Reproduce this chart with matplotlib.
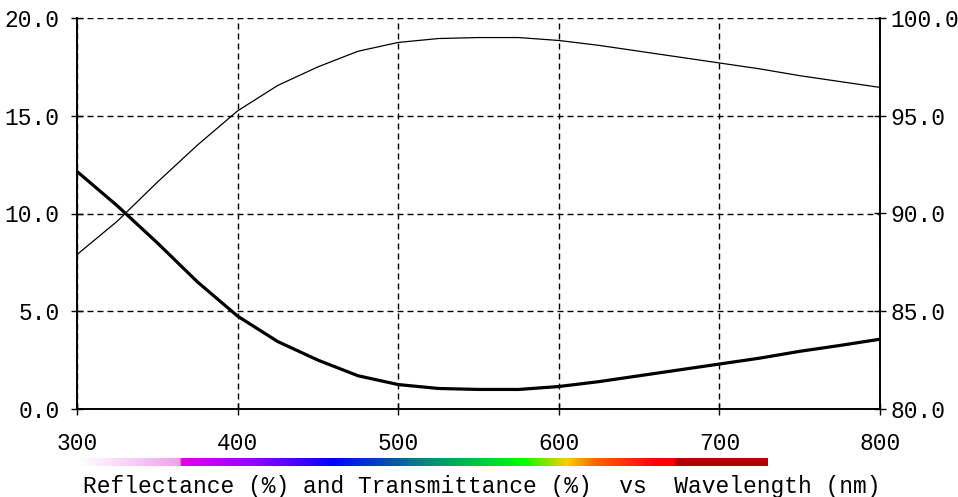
import numpy as np
import matplotlib
matplotlib.use("Agg")
import matplotlib.pyplot as plt
from matplotlib.colors import LinearSegmentedColormap

# valeurs
wavelength = [300, 325, 350, 375, 400, 425, 450, 475, 500, 525, 550,
              575, 600, 625, 650, 675, 700, 725, 750, 775, 800]
reflectance = [12.15, 10.4, 8.5, 6.5, 4.75, 3.45, 2.5, 1.7, 1.25, 1.05, 1.0,
               1.0, 1.15, 1.4, 1.7, 2.0, 2.3, 2.6, 2.95, 3.25, 3.57]
transmittance = [87.9, 89.6, 91.6, 93.5, 95.25, 96.55, 97.5, 98.3, 98.75, 98.95, 99.0,
                 99.0, 98.85, 98.6, 98.3, 98.0, 97.7, 97.4, 97.05, 96.75, 96.45]
x_ticks = [300, 400, 500, 600, 700, 800]
r_ticks = [0, 5, 10, 15, 20]
t_ticks = [80, 85, 90, 95, 100]
title = "Reflectance (%) and Transmittance (%)  vs  Wavelength (nm)"

font = "Liberation Mono"
fs = 16.5
plt.rcParams["font.family"] = [font, "DejaVu Sans Mono"]

fig = plt.figure(figsize=(9.58, 4.97), dpi=100)
ax = fig.add_axes([77 / 958, 1 - 409 / 497, 803 / 958, 391 / 497])
ax2 = ax.twinx()

ax.plot(wavelength, reflectance, color="black", lw=2.3, zorder=3)
ax2.plot(wavelength, transmittance, color="black", lw=0.9, zorder=3)

ax.set_xlim(300, 800)
ax.set_ylim(0, 20)
ax2.set_ylim(80, 100)

ax.set_xticks(x_ticks)
ax.set_xticklabels([str(v) for v in x_ticks], fontsize=fs)
ax.set_yticks(r_ticks)
ax.set_yticklabels([f"{v:.1f}" for v in r_ticks], fontsize=fs)
ax2.set_yticks(t_ticks)
ax2.set_yticklabels([f"{v:.1f}" for v in t_ticks], fontsize=fs)

ax.tick_params(axis="x", direction="inout", length=9, width=1, pad=12)
ax.tick_params(axis="y", direction="inout", length=9, width=1, pad=8)
ax2.tick_params(axis="y", direction="inout", length=9, width=1, pad=3)

ax.grid(True, color="black", lw=1.0, linestyle=(0, (4.3, 2.9)))
for a in (ax, ax2):
    a.spines["top"].set_visible(False)
    for s in ("left", "right", "bottom"):
        a.spines[s].set_linewidth(1.2)

# bande spectrale sous l'axe
stops = [(297, "#ffffff"), (360, "#f0a0ec"), (361, "#e000f0"), (406, "#9a00ff"),
         (456, "#0000ff"), (514, "#00887f"), (576, "#00ff00"), (603, "#ffcc00"),
         (621, "#ff6600"), (659, "#ff0000"), (670, "#ff0000"), (672, "#b20000"),
         (729, "#b00000")]
lo, hi = stops[0][0], stops[-1][0]
cmap = LinearSegmentedColormap.from_list(
    "spec", [((w - lo) / (hi - lo), c) for w, c in stops], N=512)
bar = fig.add_axes([77 / 958, 1 - 466 / 497, 803 / 958, 8 / 497])
bar.imshow(np.linspace(0, 1, 512)[None, :], cmap=cmap, aspect="auto",
           extent=(lo, hi, 0, 1))
bar.set_xlim(296, 800)
bar.axis("off")

fig.text(482 / 958, 1 - 486 / 497, title, fontsize=fs,
         ha="center", va="center")
# titre coupé en haut, seule la queue du "y" reste visible
fig.text(696 / 958, 1 + 5 / 497, "y", fontsize=fs, ha="center", va="baseline")

fig.savefig("out.png", dpi=100)
